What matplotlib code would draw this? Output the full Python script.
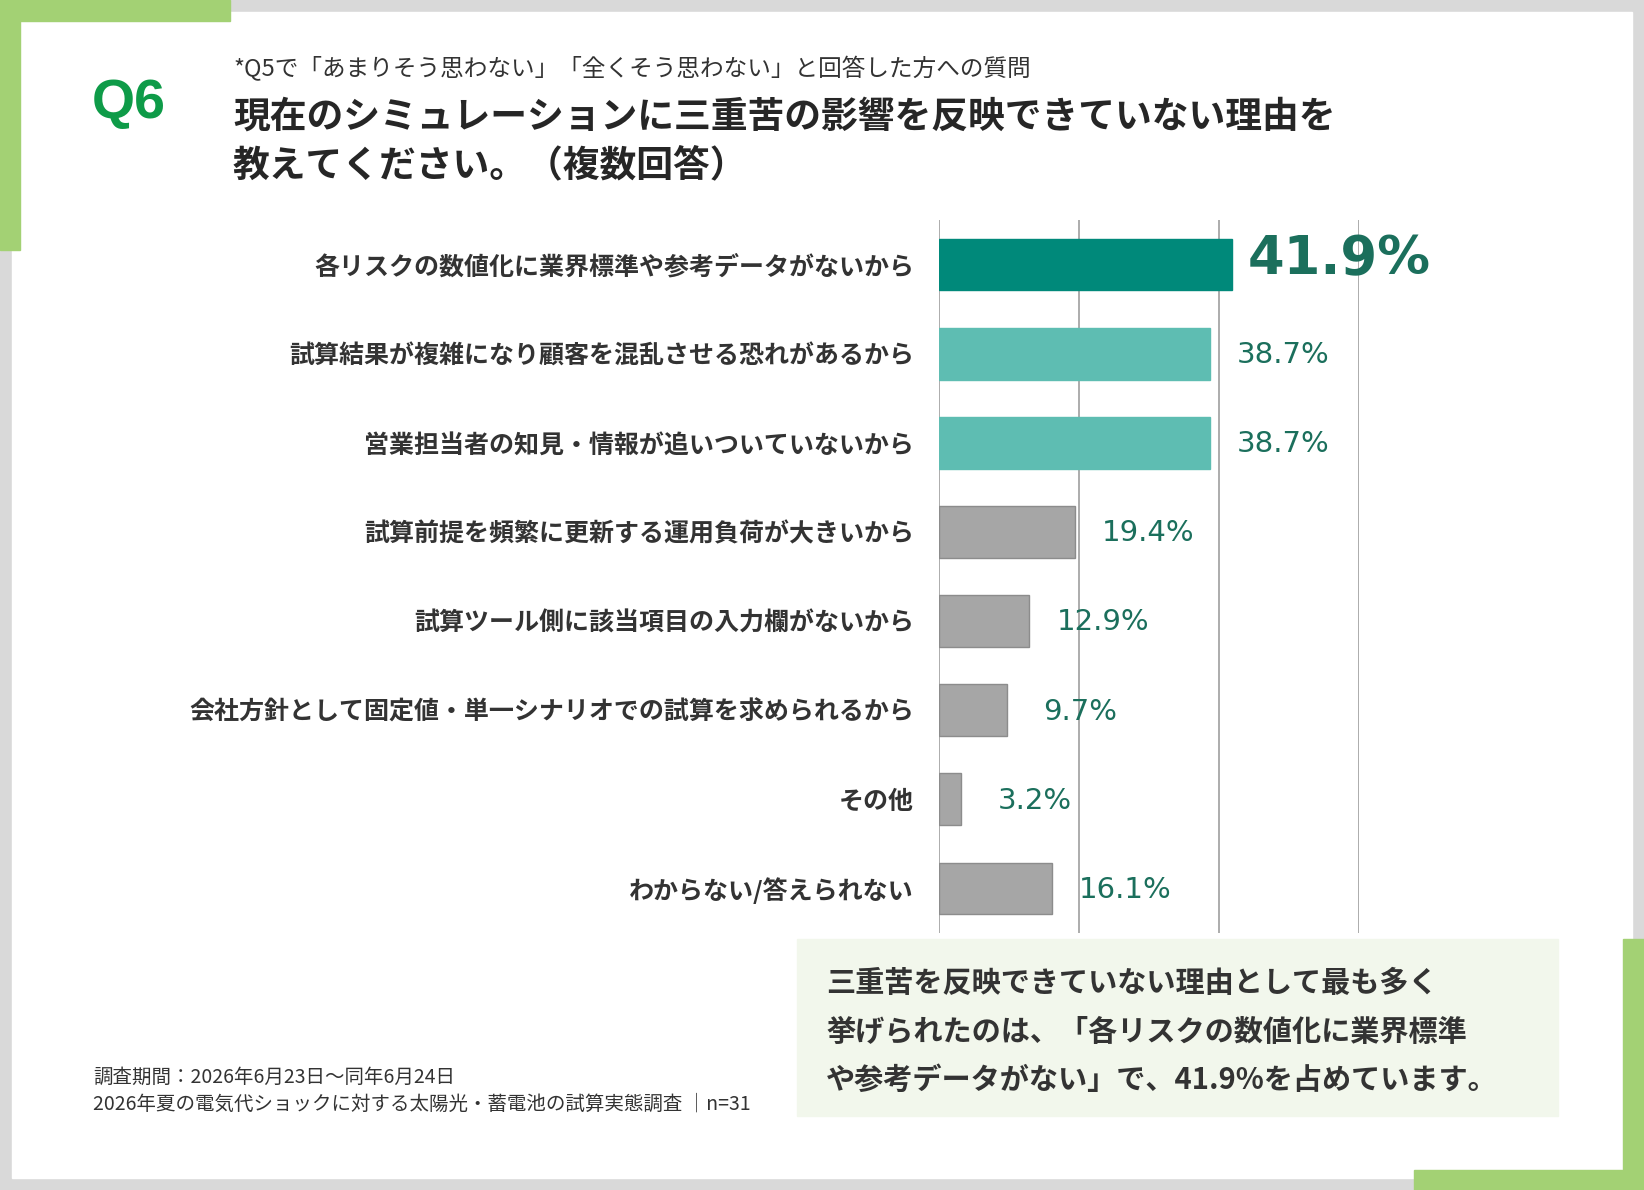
import matplotlib
matplotlib.use("Agg")
import matplotlib.pyplot as plt
from matplotlib.patches import Rectangle

plt.rcParams['font.family'] = ['Noto Sans CJK JP', 'DejaVu Sans']

# data
categories = [
    "各リスクの数値化に業界標準や参考データがないから",
    "試算結果が複雑になり顧客を混乱させる恐れがあるから",
    "営業担当者の知見・情報が追いついていないから",
    "試算前提を頻繁に更新する運用負荷が大きいから",
    "試算ツール側に該当項目の入力欄がないから",
    "会社方針として固定値・単一シナリオでの試算を求められるから",
    "その他",
    "わからない/答えられない",
]
values = [41.9, 38.7, 38.7, 19.4, 12.9, 9.7, 3.2, 16.1]
grid_ticks = [0, 20, 40, 60]

subtitle = "*Q5で「あまりそう思わない」「全くそう思わない」と回答した方への質問"
title_lines = ["現在のシミュレーションに三重苦の影響を反映できていない理由を",
               "教えてください。（複数回答）"]
summary_lines = ["三重苦を反映できていない理由として最も多く",
                 "挙げられたのは、「各リスクの数値化に業界標準",
                 "や参考データがない」で、41.9%を占めています。"]
footer_lines = ["調査期間：2026年6月23日～同年6月24日",
                "2026年夏の電気代ショックに対する太陽光・蓄電池の試算実態調査 │n=31"]

W, H = 1644, 1190
GREEN = "#A3D174"
FRAME = "#D9D9D9"
TEXT = "#333333"
VAL = "#1B6F5C"

fig = plt.figure(figsize=(W / 100, H / 100), dpi=100)

# page background, frame and corner accents (pixel coords)
bg = fig.add_axes([0, 0, 1, 1])
bg.set_xlim(0, W)
bg.set_ylim(H, 0)
bg.axis("off")
bg.add_patch(Rectangle((0, 0), W, H, color=FRAME))
bg.add_patch(Rectangle((12, 12), 1620, 1166, color="white"))
bg.add_patch(Rectangle((0, 0), 230, 21, color=GREEN))
bg.add_patch(Rectangle((0, 0), 20, 250, color=GREEN))
bg.add_patch(Rectangle((1414, 1170), 230, 20, color=GREEN))
bg.add_patch(Rectangle((1623, 939), 21, 251, color=GREEN))
bg.add_patch(Rectangle((797, 939), 761, 177, color="#F2F7EC"))

bg.text(92, 104, "Q6", family="Liberation Sans", fontsize=40, fontweight="bold",
        color="#0E9B48", va="center", ha="left")
bg.text(233, 69, subtitle, fontsize=17, color=TEXT, va="center")
for i, line in enumerate(title_lines):
    bg.text(233, 117 + i * 49, line, fontsize=26.5, fontweight="bold",
            color="#262626", va="center")
for i, line in enumerate(summary_lines):
    bg.text(826, 983 + i * 48.5, line, fontsize=21, fontweight="bold",
            color=TEXT, va="center")
for i, line in enumerate(footer_lines):
    bg.text(93, 1077 + i * 27, line, fontsize=14, color=TEXT, va="center")

# bar chart
ax = fig.add_axes([939 / W, 1 - 933 / H, 420 / W, 713 / H])
ypos = list(range(len(categories)))
colors = ["#00897A" if i == 0 else "#5EBDB2" if i < 3 else "#A6A6A6"
          for i in ypos]
edges = ["#00897A" if i == 0 else "#5EBDB2" if i < 3 else "#8C8C8C"
         for i in ypos]
ax.barh(ypos, values, height=0.58, color=colors, edgecolor=edges,
        linewidth=1, zorder=2)
ax.set_xlim(grid_ticks[0], grid_ticks[-1])
ax.set_ylim(len(categories) - 0.5, -0.5)
ax.set_xticks(grid_ticks)
ax.xaxis.grid(True, color="#A6A6A6", linewidth=1.3, zorder=1)
ax.tick_params(axis="x", length=0, labelbottom=False)
ax.set_yticks(ypos)
ax.set_yticklabels(categories, fontsize=18, fontweight="semibold", color=TEXT)
ax.tick_params(axis="y", length=0, pad=18)
for s in ax.spines.values():
    s.set_visible(False)

for i, v in enumerate(values):
    if i == 0:
        ax.annotate(f"{v}%", xy=(v, i), xytext=(11, 4), textcoords="offset points",
                    ha="left", va="center", fontsize=38, fontweight="bold",
                    family="DejaVu Sans", color=VAL, annotation_clip=False)
    else:
        ax.annotate(f"{v}%", xy=(v, i), xytext=(53, -1), textcoords="offset points",
                    ha="center", va="center", fontsize=21,
                    family="DejaVu Sans", color=VAL, annotation_clip=False)

fig.savefig("out.png", dpi=100)
